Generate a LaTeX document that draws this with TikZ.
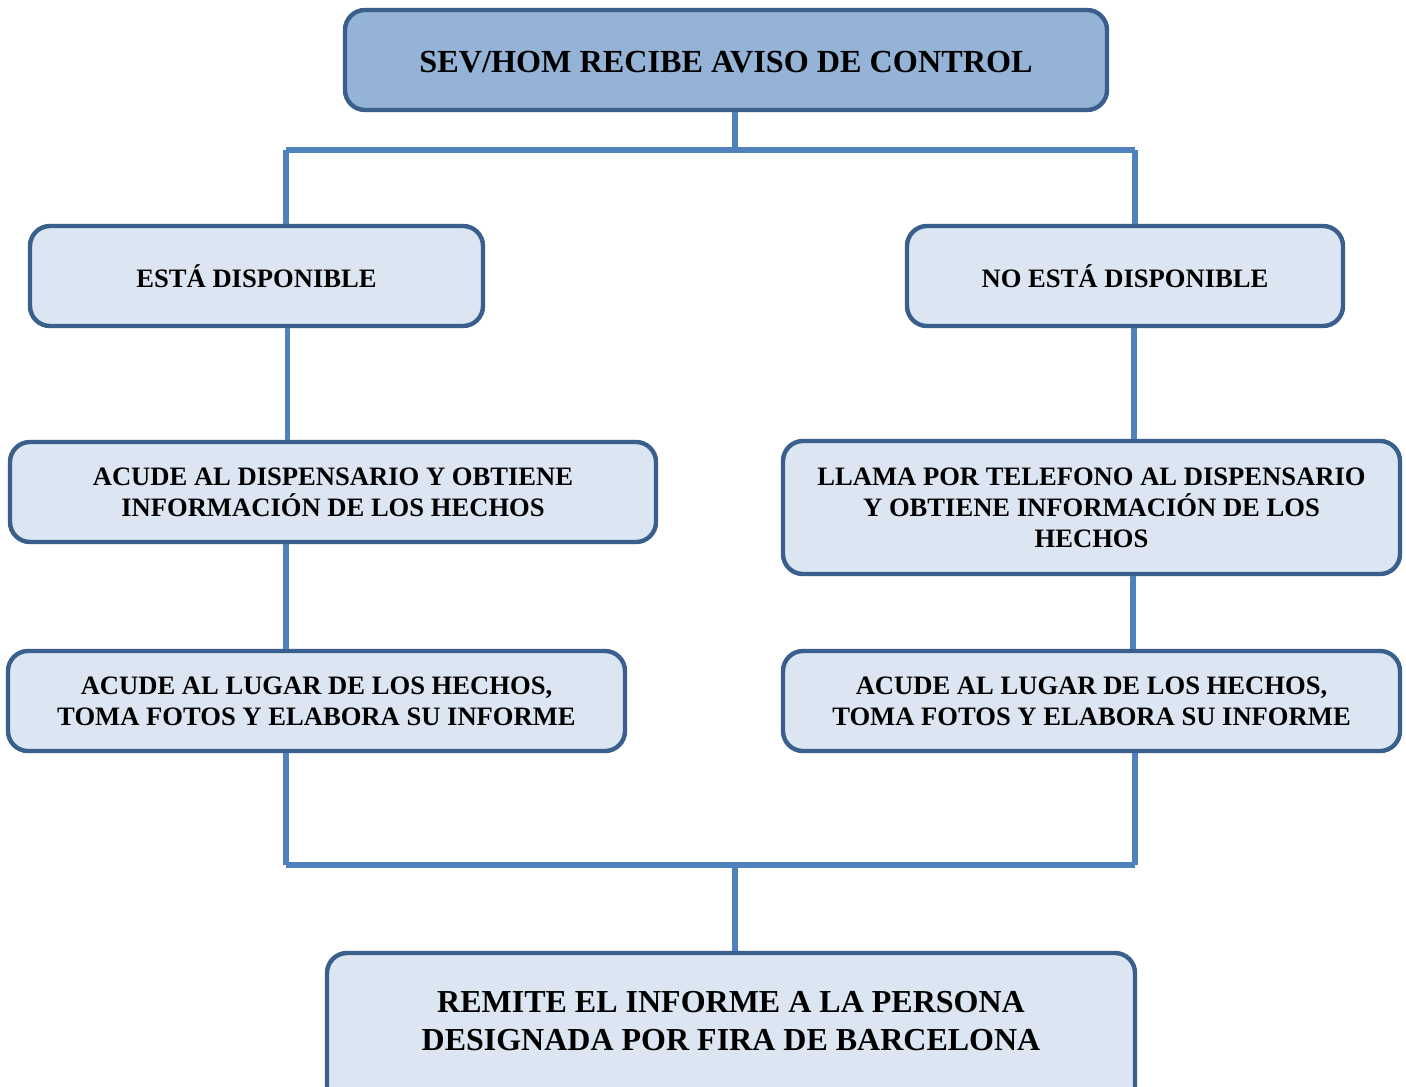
\documentclass[tikz,border=0pt]{standalone}
\usepackage{fontspec}
\setmainfont{Liberation Serif}
\definecolor{boxborder}{HTML}{3A5F8C}
\definecolor{topfill}{HTML}{95B3D7}
\definecolor{boxfill}{HTML}{DCE6F2}
\definecolor{linkcol}{HTML}{4F81BD}
\tikzset{
  box/.style={draw=boxborder, line width=2.2pt, rounded corners=10pt, fill=boxfill,
    align=center, font=\bfseries\fontsize{13.3}{15.5}\selectfont, inner sep=0pt},
  link/.style={draw=linkcol, line width=2.6pt}
}
\begin{document}
\begin{tikzpicture}[x=0.5pt,y=-0.5pt]
\clip (0,0) rectangle (1406,1086);
\fill[white] (0,0) rectangle (1406,1086);
% boxes
\node[box, fill=topfill, minimum width=381pt, minimum height=50pt, font=\bfseries\fontsize{16.1}{19}\selectfont] (top) at (726,60) {\raisebox{-6.3pt}[0pt][0pt]{SEV/HOM RECIBE AVISO DE CONTROL}};
\node[box, minimum width=226.5pt, minimum height=50pt] (esta) at (256.5,276) {ESTÁ DISPONIBLE};
\node[box, minimum width=218pt, minimum height=50pt] (noesta) at (1125,276) {NO ESTÁ DISPONIBLE};
\node[box, minimum width=323pt, minimum height=50pt] (disp) at (333,492) {ACUDE AL DISPENSARIO Y OBTIENE\\INFORMACIÓN DE LOS HECHOS};
\node[box, minimum width=308.5pt, minimum height=66.5pt] (llama) at (1091.5,507.5) {LLAMA POR TELEFONO AL DISPENSARIO\\Y OBTIENE INFORMACIÓN DE LOS\\HECHOS};
\node[box, minimum width=308.5pt, minimum height=50pt] (lugarl) at (316.5,701) {ACUDE AL LUGAR DE LOS HECHOS,\\TOMA FOTOS Y ELABORA SU INFORME};
\node[box, minimum width=308.5pt, minimum height=50pt] (lugarr) at (1091.5,701) {ACUDE AL LUGAR DE LOS HECHOS,\\TOMA FOTOS Y ELABORA SU INFORME};
\node[box, minimum width=404pt, minimum height=80pt, font=\bfseries\fontsize{16}{19}\selectfont] (remite) at (731,1033) {\raisebox{0pt}[0pt][0pt]{\begin{tabular}{@{}c@{}}REMITE EL INFORME A LA PERSONA\\DESIGNADA POR FIRA DE BARCELONA\end{tabular}}};
% junction coordinates
\coordinate (jt) at (735,150);
\coordinate (jtl) at (286,150);
\coordinate (jtr) at (1135,150);
\coordinate (jb) at (735,865);
\coordinate (jbl) at (286,865);
\coordinate (jbr) at (1135,865);
% connectors
\draw[link] (top.south -| jt) -- (jt);
\draw[link] (jtl) -- (jtr);
\draw[link] (jtl) -- (jtl |- esta.north);
\draw[link] (jtr) -- (jtr |- noesta.north);
\draw[link] ([xshift=15.5pt]esta.south) -- ([xshift=15.5pt]esta.south |- disp.north);
\draw[link] ([xshift=4.5pt]noesta.south) -- ([xshift=4.5pt]noesta.south |- llama.north);
\draw[link] (jbl |- disp.south) -- (jbl |- lugarl.north);
\draw[link] ([xshift=20.75pt]llama.south) -- ([xshift=20.75pt]llama.south |- lugarr.north);
\draw[link] (jbl |- lugarl.south) -- (jbl);
\draw[link] (jbr |- lugarr.south) -- (jbr);
\draw[link] (jbl) -- (jbr);
\draw[link] (jb) -- (jb |- remite.north);
\end{tikzpicture}
\end{document}
